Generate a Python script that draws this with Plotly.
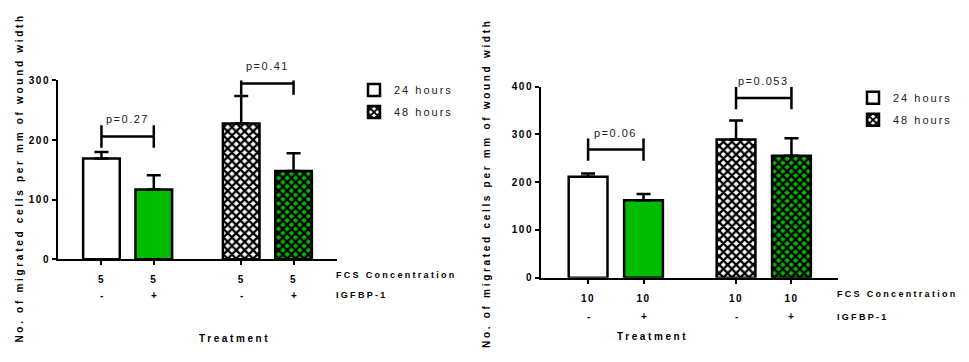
import plotly.graph_objects as go

W, H = 969, 362
FONT = "Liberation Sans"

# ---- data -------------------------------------------------------------
positions = [1.0, 2.0, 3.67, 4.67]          # bar slots: 24h(-,+), 48h(-,+)
igfbp = ["-", "+", "-", "+"]

fcs_5 = ["5", "5", "5", "5"]
h24_5 = [169, 117]
h24_5_err = [11, 24]
h48_5 = [228, 148]
h48_5_err = [46, 30]
p_5_text = ["p=0.27", "p=0.41"]
p_5_height = [206, 295]

fcs_10 = ["10", "10", "10", "10"]
h24_10 = [211, 162]
h24_10_err = [7, 13]
h48_10 = [289, 255]
h48_10_err = [40, 37]
p_10_text = ["p=0.06", "p=0.053"]
p_10_height = [268, 376]

yticks_5 = [0, 100, 200, 300]
yticks_10 = [0, 100, 200, 300, 400]

fills = ["white", "#00BB00"]      # IGFBP-1 absent / present


def sp(text, px):
    return f'<span style="letter-spacing:{px}px">{text}</span>'


fig = go.Figure()


def panel(idx, fcs, h24, e24, h48, e48, ptxt, pyv, legend_name, xdom, ydom, xr, yr, yt, row2):
    xa = "x" if idx == 1 else f"x{idx}"
    ya = "y" if idx == 1 else f"y{idx}"
    groups = [("24 hours", h24, e24, positions[:2], ""),
              ("48 hours", h48, e48, positions[2:], "x")]
    for name, vals, errs, xs, pattern in groups:
        for j in range(2):
            fig.add_trace(go.Bar(
                x=[xs[j]], y=[vals[j]], width=0.7, name=sp(name, 2),
                xaxis=xa, yaxis=ya, legend=legend_name,
                legendgroup=f"{idx}{name}", showlegend=(j == 0),
                marker=dict(
                    color=fills[j],
                    line=dict(color="black", width=2.5),
                    pattern=dict(shape=pattern, fillmode="overlay", fgcolor="black",
                                 fgopacity=1, size=6, solidity=0.62),
                ),
                error_y=dict(type="data", array=[errs[j]], arrayminus=[0],
                             symmetric=False, color="black", thickness=2.5, width=7),
            ))
    # significance brackets between the - and + bars of each time point
    for k in range(2):
        x0, x1 = positions[2 * k], positions[2 * k + 1]
        fig.add_trace(go.Scatter(
            x=[x0, x1], y=[pyv[k], pyv[k]], mode="lines+markers",
            xaxis=xa, yaxis=ya, showlegend=False, hoverinfo="skip",
            line=dict(color="black", width=2.5),
            marker=dict(symbol="line-ns", size=16,
                        line=dict(color="black", width=2.5)),
        ))
        fig.add_annotation(
            x=(x0 + x1) / 2, y=pyv[k], xref=xa, yref=ya, yshift=17,
            text=sp(ptxt[k], 1.5), showarrow=False,
            font=dict(family=FONT, size=11, color="#222"),
        )
    axis_common = dict(showline=True, linecolor="black", linewidth=2,
                       ticks="outside", ticklen=4, tickwidth=2, tickcolor="black",
                       showgrid=False, zeroline=False)
    fig.layout[("xaxis" if idx == 1 else f"xaxis{idx}")] = dict(
        domain=xdom, range=xr, anchor=ya,
        tickvals=positions, ticktext=[sp(t, 1.5) for t in fcs],
        tickfont=dict(family=FONT, size=10, color="black", weight="bold"),
        ticklabelstandoff=6,
        **axis_common,
    )
    fig.layout[("yaxis" if idx == 1 else f"yaxis{idx}")] = dict(
        domain=ydom, range=yr, anchor=xa,
        tickvals=yt, ticktext=[sp(str(v), 1.5) for v in yt],
        tickfont=dict(family=FONT, size=10, color="black", weight="bold"),
        **axis_common,
    )
    for xv, s in zip(positions, igfbp):
        fig.add_annotation(x=xv, y=0, xref=xa, yref=f"{ya} domain", yshift=-row2,
                           yanchor="middle", text=s, showarrow=False,
                           font=dict(family=FONT, size=10, color="black", weight="bold"))
    fig.add_annotation(x=1, y=0, xref=f"{xa} domain", yref=f"{ya} domain",
                       xanchor="left", yanchor="middle", yshift=-16, xshift=-3,
                       text=sp("FCS Concentration", 2.3), showarrow=False,
                       font=dict(family=FONT, size=9, color="black", weight="bold"))
    fig.add_annotation(x=1, y=0, xref=f"{xa} domain", yref=f"{ya} domain",
                       xanchor="left", yanchor="middle", yshift=-row2, xshift=-3,
                       text=sp("IGFBP-1", 2.3), showarrow=False,
                       font=dict(family=FONT, size=9, color="black", weight="bold"))


panel(1, fcs_5, h24_5, h24_5_err, h48_5, h48_5_err, p_5_text, p_5_height, "legend",
      [58 / W, 337 / W], [(H - 262) / H, (H - 77) / H], [0.17, 5.5], [0, 300], yticks_5, 36)
panel(2, fcs_10, h24_10, h24_10_err, h48_10, h48_10_err, p_10_text, p_10_height, "legend2",
      [541 / W, 838 / W], [(H - 281) / H, (H - 83.3) / H], [0.15, 5.51], [0, 400], yticks_10, 39)

ytitle = "No. of migrated cells per mm of wound width"
for xc, yc in [(12, 178), (487, 183)]:
    fig.add_annotation(x=xc / W, y=(H - yc) / H, xref="paper", yref="paper",
                       text=sp(ytitle, 2.7), textangle=-90, showarrow=False,
                       font=dict(family=FONT, size=10, color="black", weight="bold"))
for xc, yc in [(197, 352), (690, 350)]:
    fig.add_annotation(x=xc / W, y=(H - yc) / H, xref="paper", yref="paper",
                       text=sp("Treatment", 2.6), showarrow=False,
                       font=dict(family=FONT, size=10, color="black", weight="bold"))

legend_style = dict(font=dict(family=FONT, size=11, color="#222"),
                    bgcolor="rgba(0,0,0,0)", xanchor="left", yanchor="top",
                    traceorder="grouped", tracegroupgap=3)
fig.update_layout(
    width=W, height=H, margin=dict(l=0, r=0, t=0, b=0),
    paper_bgcolor="white", plot_bgcolor="white",
    barmode="overlay", showlegend=True,
    legend=dict(x=354 / W, y=(H - 72) / H, **legend_style),
    legend2=dict(x=853 / W, y=(H - 80) / H, **legend_style),
)

fig.write_html("out.html")
